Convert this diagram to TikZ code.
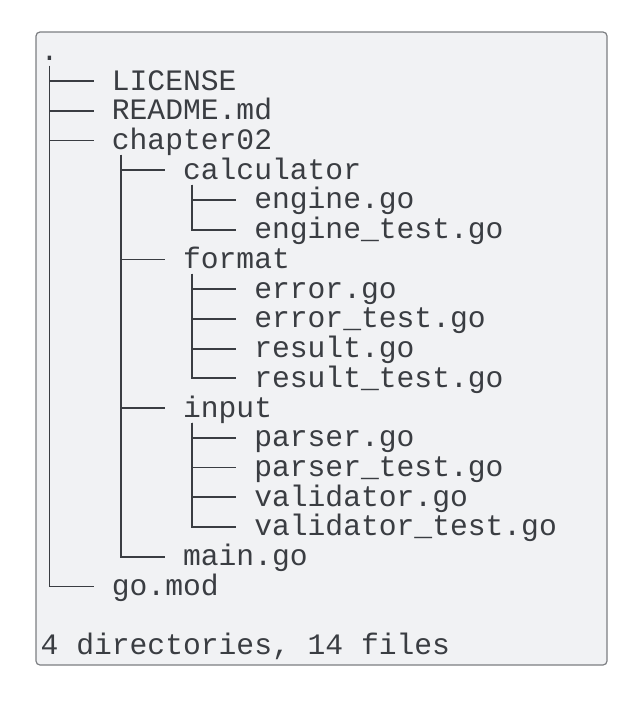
\documentclass[tikz,border=0pt]{standalone}
\usepackage{fontspec}
\setmonofont{Liberation Mono}
\usetikzlibrary{calc}
\definecolor{ink}{HTML}{3A3D42}
\definecolor{paper}{HTML}{F1F2F4}
\definecolor{frame}{HTML}{7C7E82}
\tikzset{
  entry/.style={anchor=base west,inner sep=0pt,text=ink,
    font=\ttfamily\fontsize{29.66pt}{30pt}\selectfont},
  branch/.style={draw=ink,line width=1.8pt},
}
\begin{document}
\begin{tikzpicture}[x=1pt,y=-1pt]
\useasboundingbox (0,0) rectangle (637,702);
\fill[white] (0,0) rectangle (637,702);
\draw[frame,fill=paper,rounded corners=4pt,line width=1.2pt] (36,32) rectangle (607,665);

\def\cw{17.8}
\foreach \r/\l/\t in {0/0/{.},1/1/LICENSE,2/1/README.md,3/1/chapter02,
    4/2/calculator,5/3/engine.go,6/3/engine\_test.go,
    7/2/format,8/3/error.go,9/3/error\_test.go,10/3/result.go,11/3/result\_test.go,
    12/2/input,13/3/parser.go,14/3/parser\_test.go,15/3/validator.go,16/3/validator\_test.go,
    17/2/main.go,18/1/go.mod,20/0/{4 directories, 14 files}}
  \node[entry] (n\r) at ({40.5+4*\l*\cw},{60.3+29.73*\r}) {\t};

\foreach \p/\c in {0/1,0/2,0/3,0/18,3/4,3/7,3/12,3/17,4/5,4/6,
    7/8,7/9,7/10,7/11,12/13,12/14,12/15,12/16}
  \draw[branch] ($(n\p.base west)+({0.5*\cw},5.5)$) |- ($(n\c.base west)+(-\cw,-9)$);

\end{tikzpicture}
\end{document}
